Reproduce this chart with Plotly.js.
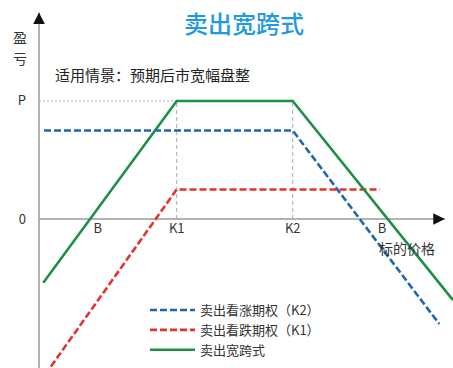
<!DOCTYPE html>
<html>
<head>
<meta charset="utf-8">
<script src="https://cdn.plot.ly/plotly-3.0.1.min.js"></script>
<style>
  html, body { margin: 0; padding: 0; background: #fff; }
  #chart { width: 453px; height: 368px; }
</style>
</head>
<body>
<div id="chart"></div>
<script>
// Payoff of a short strangle: short call at K2, short put at K1
const tickNames = ['B', 'K1', 'K2', 'B'];
const tickPrices = [2.6, 6, 11, 14.85];
const levelNames = ['P', '0'];
const levelValues = [4, 0];

const callName = '卖出看涨期权（K2）';
const callPrice = [0.28, 11, 17.32];
const callPnl = [3, 3, -3.56];

const putName = '卖出看跌期权（K1）';
const putPrice = [0.58, 6, 14.76];
const putPnl = [-5.0, 1, 1];

const strangleName = '卖出宽跨式';
const stranglePrice = [0.25, 6, 11, 17.91];
const stranglePnl = [-2.16, 4, 4, -2.75];

const K1 = tickPrices[1];
const K2 = tickPrices[2];
const P = levelValues[0];

const xRange = [0.065, 17.91];
const yRange = [-5.05, 7.42];
const xArrowTip = 17.56;
const yArrowTip = 7.0;

const font = '"Noto Sans CJK SC", "Noto Sans", sans-serif';
const axisGrey = '#9a9a9a';

const traces = [
  { x: callPrice, y: callPnl, name: callName, mode: 'lines',
    line: { color: '#1f66ae', width: 2.6, dash: '7px,3px' } },
  { x: putPrice, y: putPnl, name: putName, mode: 'lines',
    line: { color: '#e5332c', width: 2.6, dash: '7px,3px' } },
  { x: stranglePrice, y: stranglePnl, name: strangleName, mode: 'lines',
    line: { color: '#1f8f48', width: 2.6 } }
];

const shapes = [
  // axes
  { type: 'line', xref: 'x', yref: 'y', x0: xRange[0], x1: xArrowTip, y0: 0, y1: 0,
    line: { color: axisGrey, width: 1.5 }, layer: 'below' },
  { type: 'line', xref: 'paper', yref: 'y', x0: 0, x1: 0, y0: yRange[0], y1: yArrowTip,
    line: { color: axisGrey, width: 1.5 }, layer: 'below' },
  // max profit level
  { type: 'line', xref: 'x', yref: 'y', x0: xRange[0], x1: K1, y0: P, y1: P,
    line: { color: '#aaaaaa', width: 1, dash: '2px,2px' }, layer: 'below' },
  // strike guides
  { type: 'line', x0: K1, x1: K1, y0: 0, y1: P,
    line: { color: '#aaaaaa', width: 1, dash: '4px,3px' }, layer: 'below' },
  { type: 'line', x0: K2, x1: K2, y0: 0, y1: P,
    line: { color: '#aaaaaa', width: 1, dash: '4px,3px' }, layer: 'below' }
];

// text labels placed by pixel position in the 453x368 frame
const labels = [
  { px: 20, py: 37, text: '盈' },
  { px: 20, py: 58, text: '亏' },
  { px: 407, py: 248, text: '标的价格' },
  { px: 53, py: 75, text: '适用情景：预期后市宽幅盘整', anchor: 'left', size: 15, color: '#222' }
];

const annotations = [
  // arrow heads
  { x: xArrowTip, y: 0, xref: 'x', yref: 'y', ax: -8, ay: 0, text: '',
    showarrow: true, arrowhead: 2, arrowsize: 1.55, arrowwidth: 1.5, arrowcolor: '#111' },
  { x: 0, y: yArrowTip, xref: 'paper', yref: 'y', ax: 0, ay: 8, text: '',
    showarrow: true, arrowhead: 2, arrowsize: 1.55, arrowwidth: 1.5, arrowcolor: '#111' }
].concat(labels.map(l => ({
  xref: 'paper', yref: 'paper',
  x: (l.px - 39) / (453 - 39), y: 1 - l.py / 368,
  xanchor: l.anchor || 'center', yanchor: 'middle',
  text: l.text, showarrow: false,
  font: { size: l.size || 14, color: l.color || '#333', family: font }
})));

const layout = {
  width: 453, height: 368,
  margin: { l: 39, r: 0, t: 0, b: 0 },
  paper_bgcolor: '#fff', plot_bgcolor: '#fff',
  font: { family: font, color: '#333', size: 13 },
  title: {
    text: '卖出宽跨式',
    x: 244 / 453, xanchor: 'center', xref: 'container',
    y: 1 - 25 / 368, yanchor: 'middle', yref: 'container',
    font: { size: 24, color: '#1e9ae0', family: font, weight: 500 }
  },
  xaxis: {
    range: xRange, showgrid: false, zeroline: false, showline: false,
    tickvals: tickPrices, ticktext: tickNames, ticks: '',
    anchor: 'free', position: 149 / 368,
    tickfont: { size: 13, color: '#333' }, fixedrange: true
  },
  yaxis: {
    range: yRange, showgrid: false, zeroline: false, showline: false,
    tickvals: levelValues, ticktext: levelNames, ticks: '',
    ticklabelstandoff: 12,
    tickfont: { size: 13, color: '#333' }, fixedrange: true
  },
  showlegend: true,
  legend: {
    x: (145 - 39) / 414, xanchor: 'left', y: 1 - 295 / 368, yanchor: 'top',
    bgcolor: 'rgba(0,0,0,0)', font: { size: 13, color: '#333' },
    itemwidth: 45, traceorder: 'normal'
  },
  shapes: shapes,
  annotations: annotations
};

Plotly.newPlot('chart', traces, layout, { displayModeBar: false, staticPlot: true });
</script>
</body>
</html>
